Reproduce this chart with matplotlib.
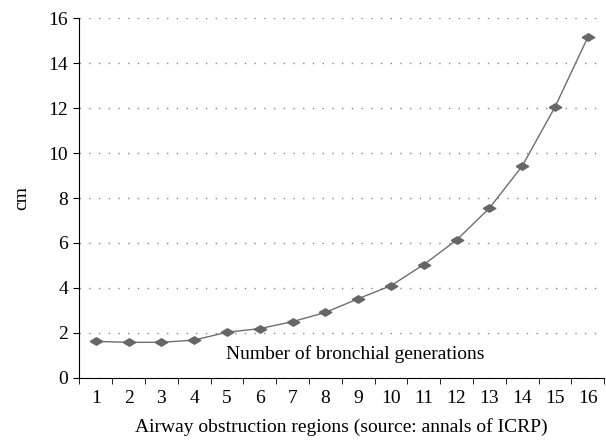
import numpy as np
import matplotlib.pyplot as plt

plt.rcParams['font.family'] = ['Liberation Serif', 'DejaVu Serif']

regions = list(range(1, 17))
cm = [1.62, 1.58, 1.58, 1.68, 2.03, 2.19, 2.5, 2.91, 3.52, 4.1, 5.04, 6.13, 7.55, 9.42, 12.05, 15.15]

fig = plt.figure(figsize=(6.06, 4.44), dpi=100)
ax = fig.add_axes([0.131, 0.149, 0.866, 0.81])

# flattened diamond like the original
diamond = [(-1, 0), (0, 0.6), (1, 0), (0, -0.6), (-1, 0)]
ax.plot(regions, cm, color='#6e6e6e', linewidth=1, marker=diamond, markersize=9,
        markerfacecolor='#666666', markeredgecolor='#666666')

ax.set_xlim(0.5, 16.5)
ax.set_ylim(0, 16)
ax.set_yticks(np.arange(0, 17, 2))
ax.set_xticks(regions)
ax.set_xticks(np.arange(0.5, 17, 1), minor=True)
ax.tick_params(axis='x', which='major', length=0, labelsize=14, pad=9)
ax.tick_params(axis='x', which='minor', length=4, direction='out')
ax.tick_params(axis='y', labelsize=14, length=4, direction='out', pad=4)

ax.grid(True, axis='y', linestyle=(0, (1, 6)), color='#888888', linewidth=1)
ax.spines['top'].set_visible(False)
ax.spines['right'].set_visible(False)

ax.text(8.9, 1.05, 'Number of bronchial generations', ha='center', va='center', fontsize=14)
ax.set_xlabel('Airway obstruction regions (source: annals of ICRP)', fontsize=14, labelpad=8)
ax.set_ylabel('cm', fontsize=14, labelpad=13)

fig.savefig('out.png', dpi=100)
